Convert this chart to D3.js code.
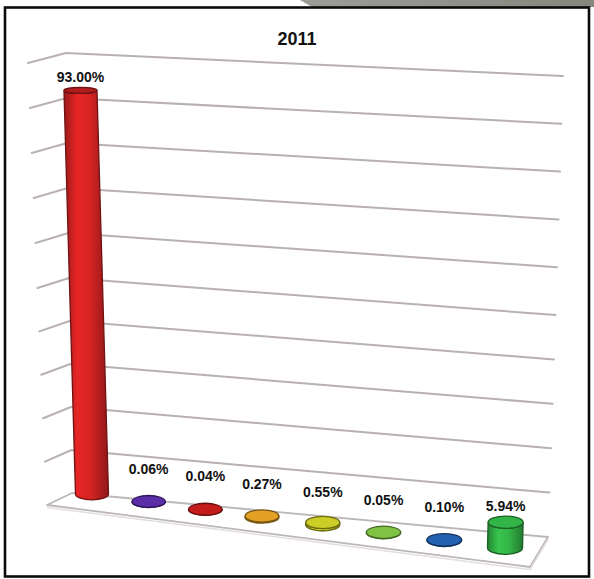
<!DOCTYPE html>
<html>
<head>
<meta charset="utf-8">
<script src="https://cdn.jsdelivr.net/npm/d3@7"></script>
<style>
  html, body { margin: 0; padding: 0; background: #ffffff; }
  svg { display: block; }
</style>
</head>
<body>
<svg id="chart" width="594" height="579"></svg>
<script>
// ---- data ----
const title = "2011";
const categories = ["c1", "c2", "c3", "c4", "c5", "c6", "c7", "c8"];
const values = [93.00, 0.06, 0.04, 0.27, 0.55, 0.05, 0.10, 5.94];
const colors = ["#d42323", "#5b2ea8", "#c41b1b", "#e2a124", "#cccd26", "#7fc244", "#2361b3", "#33b446"];
const gridTicks = d3.range(10, 101, 10);

const svg = d3.select("#chart");
const W = 594, H = 579;
const defs = svg.append("defs");

// ---- perspective scales for the box (value -> screen) ----
// left front edge, back-left corner, right end of the back wall
const yL = d3.scaleLinear().domain([0, 50, 100]).range([505, 288, 63]);
const xL = d3.scaleLinear().domain([0, 100]).range([47, 28]);
const yC = d3.scaleLinear().domain([0, 50, 100]).range([493, 278, 53]);
const xC = d3.scaleLinear().domain([0, 100]).range([72, 66]);
const yR = d3.scaleLinear().domain([0, 50, 100]).range([537, 315, 76]);
const xR = d3.scaleLinear().domain([0, 100]).range([548, 563]);

// bar placement on the floor
const idx = d3.range(categories.length);
const xBase = d3.scaleLinear().domain([0, 3, 7]).range([92, 262, 505]);
const yBase = d3.scaleLinear().domain([0, 7]).range([494, 548]);
const hScale = d3.scaleLinear().domain([0, 100]).range([0, 434]);
const lean = d3.scaleLinear().domain([92, 505]).range([-12.4, 10.3]);
const rxScale = d3.scaleLinear().domain([92, 505]).range([16.5, 17.5]);
const ryScale = d3.scaleLinear().domain([90, 550]).range([3, 6.3]);

// ---- frame ----
svg.append("rect").attr("x", 0).attr("y", 0).attr("width", W).attr("height", H).attr("fill", "#ffffff");

const tabGrad = defs.append("linearGradient").attr("id", "tabGrad").attr("x1", 0).attr("x2", 1);
tabGrad.append("stop").attr("offset", "0%").attr("stop-color", "#9c9d97");
tabGrad.append("stop").attr("offset", "100%").attr("stop-color", "#85877f");
svg.append("path")
  .attr("d", "M300,0 L594,0 L594,7 L312,7 Z")
  .attr("fill", "url(#tabGrad)");

// ---- floor ----
const floorPts = [
  [xL(0), yL(0)],
  [xC(0), yC(0)],
  [xR(0), yR(0)],
  [530, 567]
];
svg.append("path")
  .attr("d", d3.line()(floorPts) + "Z")
  .attr("fill", "#ffffff")
  .attr("stroke", "#bdb6b6")
  .attr("stroke-width", 1.8)
  .attr("stroke-linejoin", "round");
svg.append("path")
  .attr("d", d3.line()([[xL(0), yL(0) + 2.5], [530, 569.5], [xR(0), yR(0) + 2.5]]))
  .attr("fill", "none")
  .attr("stroke", "#e3dede")
  .attr("stroke-width", 1.5);

// ---- gridlines (left wall + back wall) ----
const grid = svg.append("g").attr("fill", "none")
  .attr("stroke", "#b9b1b1").attr("stroke-width", 2).attr("stroke-linecap", "round")
  .attr("stroke-linejoin", "round");
grid.selectAll("path").data(gridTicks).join("path")
  .attr("d", v => d3.line()([[xL(v), yL(v)], [xC(v), yC(v)], [xR(v), yR(v)]]));

// ---- bars (cylinders) ----
const bars = idx.map(i => {
  const bx = xBase(i), by = yBase(i);
  const h = hScale(values[i]);
  const tx = bx + lean(bx) * values[i] / 100;
  const ty = by - h;
  return {
    i, v: values[i], color: colors[i],
    bx, by, tx, ty,
    rx: rxScale(bx),
    ryB: ryScale(by), ryT: ryScale(ty)
  };
});

bars.forEach(d => {
  const c = d3.color(d.color);
  const g = defs.append("linearGradient").attr("id", "body" + d.i).attr("x1", 0).attr("x2", 1);
  g.append("stop").attr("offset", "0%").attr("stop-color", c.darker(0.9));
  g.append("stop").attr("offset", "30%").attr("stop-color", c.brighter(0.25));
  g.append("stop").attr("offset", "60%").attr("stop-color", c);
  g.append("stop").attr("offset", "100%").attr("stop-color", c.darker(1.1));
});

const barG = svg.append("g");
const barSel = barG.selectAll("g").data(bars).join("g");

// side of the cylinder
barSel.append("path")
  .attr("d", d => {
    const p = d3.path();
    p.moveTo(d.tx - d.rx, d.ty);
    p.lineTo(d.bx - d.rx, d.by);
    return p.toString() +
      ` A${d.rx},${d.ryB} 0 0 0 ${d.bx + d.rx},${d.by}` +
      ` L${d.tx + d.rx},${d.ty}` +
      ` A${d.rx},${d.ryT} 0 0 1 ${d.tx - d.rx},${d.ty} Z`;
  })
  .attr("fill", d => `url(#body${d.i})`)
  .attr("stroke", d => d3.color(d.color).darker(1.8))
  .attr("stroke-width", 1.3);

// top cap
barSel.append("ellipse")
  .attr("cx", d => d.tx).attr("cy", d => d.ty)
  .attr("rx", d => d.rx).attr("ry", d => d.ryT)
  .attr("fill", d => d.v > 50 ? d3.color(d.color).darker(0.5) : d3.color(d.color))
  .attr("stroke", d => d3.color(d.color).darker(1.8))
  .attr("stroke-width", 1.3);

// ---- value labels ----
const fmt = d3.format(".2f");
svg.append("g").selectAll("text").data(bars).join("text")
  .attr("x", d => d.tx)
  .attr("y", d => Math.min(d.ty - d.ryT - 5, d.by - 28))
  .attr("text-anchor", "middle")
  .attr("font-family", "'Liberation Sans', Arial, sans-serif")
  .attr("font-weight", "bold")
  .attr("font-size", 14)
  .attr("fill", "#111111")
  .text(d => fmt(d.v) + "%");

// ---- title ----
svg.append("text")
  .attr("x", 297).attr("y", 45)
  .attr("text-anchor", "middle")
  .attr("font-family", "'Liberation Sans', Arial, sans-serif")
  .attr("font-weight", "bold")
  .attr("font-size", 18)
  .attr("fill", "#111111")
  .text(title);

// ---- border ----
svg.append("rect")
  .attr("x", 5).attr("y", 7.5).attr("width", 584).attr("height", 569)
  .attr("fill", "none").attr("stroke", "#0a0a0a").attr("stroke-width", 2.6);
</script>
</body>
</html>
